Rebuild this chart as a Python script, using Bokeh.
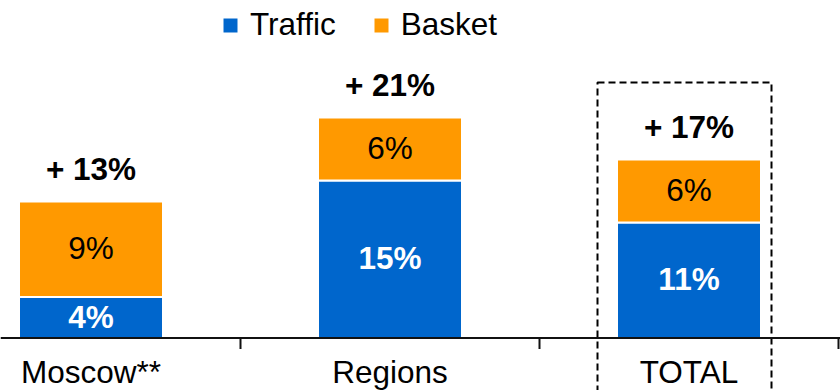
from bokeh.plotting import figure
from bokeh.models import Range1d, ColumnDataSource, Legend, LegendItem, Span
from bokeh.core.properties import value
from bokeh.embed import file_html
from bokeh.resources import INLINE

categories = ["Moscow**", "Regions", "TOTAL"]
traffic = [3.9, 15.0, 11.0]
basket = [9.1, 6.0, 6.0]
traffic_labels = ["4%", "15%", "11%"]
basket_labels = ["9%", "6%", "6%"]
total_labels = ["+ 13%", "+ 21%", "+ 17%"]

BLUE = "#0066CC"
ORANGE = "#FF9900"
FONT = "Liberation Sans"
FS = "31.5px"

xs = [i + 0.5 for i in range(len(categories))]
tops = [t + b for t, b in zip(traffic, basket)]
src = ColumnDataSource(dict(
    x=xs, cat=categories, traffic=traffic, basket=basket, top=tops,
    tmid=[t / 2 for t in traffic],
    bmid=[t + b / 2 for t, b in zip(traffic, basket)],
    tl=traffic_labels, bl=basket_labels, totl=total_labels,
))

unit = 299.0
x0 = 1 - 240 / unit
ypx = 10.5
y0px = 337.5
p = figure(width=840, height=390, output_backend="svg", toolbar_location=None,
           x_range=Range1d(x0, x0 + 840 / unit),
           y_range=Range1d(-(390 - y0px) / ypx, y0px / ypx),
           x_axis_type=None, y_axis_type=None, min_border=0,
           outline_line_color=None, background_fill_color="white")
p.grid.visible = False

bw = 144 / unit
r_t = p.vbar(x="x", bottom=0, top="traffic", width=bw, source=src,
             fill_color=BLUE, line_color="white", line_width=2)
r_b = p.vbar(x="x", bottom="traffic", top="top", width=bw, source=src,
             fill_color=ORANGE, line_color="white", line_width=2)

# x axis line and ticks
p.add_layout(Span(location=0, dimension="width", line_color="#111111", line_width=2))
p.segment(x0=[1, 2, 3], y0=[0, 0, 0], x1=[1, 2, 3], y1=[-11 / ypx] * 3,
          line_color="#111111", line_width=2)

# category labels
p.text(x="x", y=-(371.8 - y0px) / ypx, text="cat", source=src,
       text_font=value(FONT), text_font_size=FS, text_align="center",
       text_baseline="middle", text_color="black")

# in-bar labels
p.text(x="x", y="tmid", text="tl", source=src, text_font=value(FONT),
       text_font_size=FS, text_font_style="bold", text_color="white",
       text_align="center", text_baseline="middle", y_offset=-1)
p.text(x="x", y="bmid", text="bl", source=src, text_font=value(FONT),
       text_font_size=FS, text_color="black",
       text_align="center", text_baseline="middle", y_offset=-1)
# totals
p.text(x="x", y="top", text="totl", source=src, text_font=value(FONT),
       text_font_size=FS, text_font_style="bold", text_color="black",
       text_align="center", text_baseline="middle", y_offset=-33)

# dashed highlight box around TOTAL
p.quad(left=[x0 + 597 / unit], right=[x0 + 771 / unit],
       top=[(y0px - 82) / ypx], bottom=[-10],
       fill_color=None, line_color="black", line_width=2, line_dash="7 4")

legend = Legend(items=[LegendItem(label="Traffic", renderers=[r_t]),
                       LegendItem(label="Basket", renderers=[r_b])],
                orientation="horizontal", location=(220, 347),
                glyph_width=20, glyph_height=20, label_standoff=10, spacing=35,
                padding=0, margin=0, border_line_color=None,
                background_fill_alpha=0,
                label_text_font=FONT, label_text_font_size=FS,
                label_text_color="black")
p.add_layout(legend)

open("out.html", "w").write(file_html(p, INLINE))
